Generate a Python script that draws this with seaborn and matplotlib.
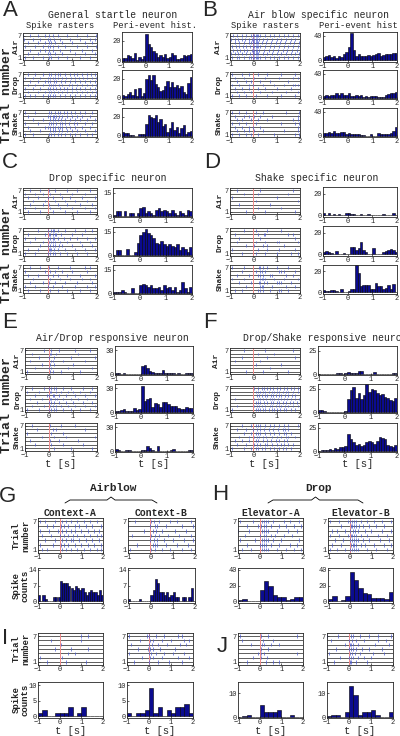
import numpy as np
import pandas as pd
import seaborn as sns
import matplotlib.pyplot as plt
from matplotlib.lines import Line2D

# spike rasters: one string per trial (trial 1 first), spike times in tenths of a second
A_air = ["-9 -6 -2 0.5 1.5 4 8 13 17", "-8 -4 0 1 3 6 11 15 19", "-10 -7 -3 -1 0.5 2 5 9 14 18",
         "-9 -5 -2 0 1 2 4 7 12 16 19.5", "-8 -4 -1 0.5 1.5 3 6 10 15 18",
         "-9.5 -6 -3 0 1 2.5 5 9 13 17 19", "-10 -7 -4 -1 0.5 2 4 8 12 16 19.5"]
A_drop = ["-9 -7 -5 -2 0 1 2 3 5 7 9 11 13 15 17 19", "-10 -8 -4 -1 0.5 1.5 2.5 4 6 8 10 12 14 16 18 19.5",
          "-9 -6 -3 0 1 2 3.5 5 6.5 8 10 11.5 13 15 17 19", "-8 -5 -2 0.5 1.5 2 3 4.5 6 8.5 10 12 14 16 18 19.5",
          "-10 -7 -4 -1 0 1 2.5 3.5 5.5 7 9 11 13 15 17 19", "-9 -6 -3 0 1 2 3 4 6 7.5 9.5 11 12.5 14.5 16 18 19.5",
          "-8 -5 -2 0.5 1.5 3 4 5 7 9 10.5 12 14 16 17.5 19"]
A_shake = ["-9 -6 0.5 1.5 2.5 4 5.5 7 9 11 13 16 18", "-10 -7 -3 1 2 3 4.5 6 8 10 12 15 19",
           "-8 -1 0 1 2 3 4 5 6 7.5 9 11 14 17", "-9 -4 0.5 1.5 2 3.5 5 6 7 8.5 10.5 12 15 18",
           "-10 -6 -2 1 2 3 4 5.5 7 9 11 13 16 19", "-8 0 1 2 2.5 3.5 4.5 6 8 10 12 14 17",
           "-9 -5 0.5 1.5 3 4 5 6.5 8 9.5 11 13 15 18"]
B_air = ["-10 -9 -7 -6 -4 -2 -1 0 0.5 1 1.5 2 3 5 7 9 11 13 15 17 19",
         "-9.5 -8 -6.5 -5 -3 -1.5 0 0.5 1 1.5 2 4 6 8 10 12 14 16 18 19.5",
         "-10 -8.5 -7 -5.5 -4 -2.5 -0.5 0 0.5 1 1.5 2.5 4.5 6.5 8.5 10.5 12.5 14.5 16.5 18.5",
         "-9 -7.5 -6 -4.5 -3 -1.5 0 0.5 1 1.5 2 3 5 7 9 11 13 15 17 19",
         "-10 -8 -6 -4 -2 -1 0 0.5 1 1.5 2 3.5 5.5 7.5 9.5 11.5 13.5 15.5 17.5 19.5",
         "-9.5 -8 -6.5 -5 -3.5 -2 -0.5 0 0.5 1 1.5 2.5 4 6 8 10 12 14 16 18",
         "-10 -8.5 -7 -5 -3 -1 0 0.5 1 1.5 2 3 5 7 9 11 13 15 17 19"]
B_drop = ["-9 -6 -3 1 6 12 18", "-10 -7 -4 -1 3 8 14 19", "-8 -5 -2 2 5 10 16", "-9 -6 -2 0 4 9 13 17 18 19",
          "-10 -7 -3 -1 3 7 15", "-8 -4 0.5 5 11 17 19", "-9 -5 -2 2 6 12 18"]
B_shake = ["-9 -6 -3 -1 2 9 18 19.5", "-10 -7 -4 -2 0.5 4 13 19", "-8 -5 -2 0 3 19", "-9 -6 -3 1 12 18 19.5",
           "-10 -7 -5 -1 2 6 17 19", "-8 -4 -2 0.5 3 8 19", "-9 -6 -3 1 4 14 19.5"]
C_air = ["-8 -3 2 7 12 17", "-9 -5 1 5 10 15 19", "-7 -2 0.5 4 8 13 18", "-10 -6 -1 3 7 11 16",
         "-8 -4 0 2 6 9 14 19", "-9 -5 -2 1 5 10 15", "-7 -3 0.5 3 8 12 17"]
C_drop = ["-9 -5 0 1 2 3 5 8 12 16", "-8 -4 0.5 1 1.5 2.5 4 7 11 15 19", "-10 -3 0 1 2 3 4.5 6 10 14 18",
          "-7 -2 0.5 1.5 2 3 5 8 13 17", "-9 -5 0 1 2 2.5 4 6.5 9 12 16 19", "-8 -1 0.5 1 2 3 3.5 5.5 10 14",
          "-10 -4 0 1.5 2 2.5 4 7 11 15 18"]
C_shake = ["-8 -3 1 4 8 13 17", "-9 -5 0 2 6 11 16 19", "-7 -2 0.5 3 7 12 18", "-10 -6 1 5 9 14 17",
           "-8 -4 0 2 4 8 13 19", "-9 -1 1 3 6 10 16", "-7 -3 0.5 4 9 15 17"]
D_air = ["-3 5 18", "2 12", "-6 7", "1 19", "-9 10", "-4 2 15", "-7 3 17"]
D_drop = ["-5 1 5 10 16 19", "-9 2 6 11 18", "-3 0.5 4 6 13", "-7 1 5 10 11 19", "-6 3 18",
          "-8 2 4.5 5 15 17", "-4 1 6 12"]
D_shake = ["-8 -5 2 3 4 7 11 12 15", "-10 -3 3 3.5 4 8 14 18", "-6 -1 2.5 3 4.5 6 10 11 12 16",
           "-9 -4 3 3.5 4 5 9 13 19", "-7 -2 2 3 4 7 8 14 17", "-5 1 3 3.5 5 11 12 13 18",
           "-9 -4 2.5 3 4 6 10 15"]
E_air = ["-9 0.5 1.5 5 13", "-6 0 1 8 18", "-3 0.5 2 10", "-8 1 1.5 6 15", "-4 0 2 9 19",
         "-7 0.5 1 3 12", "-10 -2 1 4 11 17"]
E_drop = ["-9 -4 0 1 2 3 6 9 13 17", "-7 -2 0.5 1.5 3 5 8 11 15 19", "-10 -5 0 1 2 4 7 10 14 18",
          "-8 -3 0.5 1 2.5 3.5 6 9 12 16", "-6 -1 0 1.5 2 4 7 11 15 19", "-9 -4 0.5 1 3 5 8 10 13 17",
          "-7 -2 0 1 2 3 6 9 14 18"]
E_shake = ["-10 2 9 18", "-6 1 6 14", "-8 0.5 4 12", "-3 2 7 19", "-9 1 6", "-5 1.5 3 15", "-7 0.5 5 11"]
F_air = ["-3 4 15", "7", "1 12", "-8 3", "-5 6 18", "2 9", "-4 5 17"]
F_drop = ["-9 1 2 3 4 5 6.5 8 9 10 11.5 13 14 16 18", "-7 0.5 1.5 2.5 3.5 5 7 8 9.5 11 12 13.5 15 17 19",
          "1 2 3 4.5 6 7.5 8.5 10 11 12.5 14 15.5 17 18.5", "-8 0.5 2 3 4 5.5 7 8 9 10.5 12 13 14.5 16 18 19.5",
          "1.5 2.5 3.5 5 6 7.5 8.5 9.5 11 12 13.5 15 16.5 18", "-10 1 2 3 4 5 6.5 8 9 10 11 12.5 14 15 17 19",
          "0.5 2 3.5 4.5 6 7 8.5 10 11.5 13 14.5 16 17.5 19"]
F_shake = ["-9 -4 -1 1 2 3.5 5 7 9 11 12.5 14 16", "-7 -3 0.5 1.5 3 5 6 8 10 12 13 15 17",
           "-8 -5 -2 1 2 4 6 7.5 9.5 11 13 14.5", "-6 -2 0.5 1.5 2.5 4 5.5 8 10 12 14 15 18",
           "-10 -4 -1 1 2 3 5 7 9 11 13 14 16", "-7 -3 0 1.5 3 4.5 6.5 8.5 10.5 12.5 13.5 15",
           "-5 -1 1 2 3 5 7 9 11 13 15 19"]
G_A = ["-8 -6 1 3 5 8 11 14 17 19", "-9 -3 0.5 2 4 7 10 13 16 19", "-10 -7 -2 1 3 5 6 9 12 15 18",
       "-8 -4 0 2 4 6 8 11 14 17 19", "-9 -5 -1 1 3 5 7 10 13 16 18", "-10 -6 -3 0.5 2 4 7 9 12 15 19",
       "-9 -7 -2 1 3 5 8 11 14 17"]
G_B = ["-9 0.5 2 5 9 14 18", "-6 1 2 3 7 12 17", "0 1.5 3 6 10 15 19", "-8 0.5 2 4 8 13 18",
       "-3 1 2.5 5 11 16", "-10 0 2 3 7 14 19", "-7 0.5 1.5 4 9 12 18"]
H_A = ["-8 -4 1 2 3 4 8 12 16 19", "-6 0 1 2 3 5 9 14 17", "-9 -2 1 2 3 4 6 10 18", "-7 0 2 3 5 7 11 15",
       "-10 -5 1 2 3 4 8 13 17", "-6 -1 0.5 2 3 5 9 12 16 19", "-9 -3 1 2 3 4 6 11 14 18"]
H_B = ["-9 -6 -2 0 1 2 3 4 8 12 17", "-8 -4 0.5 1.5 2 3 5 7 11 16 19", "-7 -3 0 1 2 3 4 6 9 14 18",
       "-9 -5 -1 0.5 1 2 3 5 8 13 17", "-8 -6 -2 0 1.5 2.5 4 7 10 15 19", "-10 -4 0.5 1 2 3 4.5 6 9 12 16",
       "-9 -5 -1 0 1 2 3 5 8 11 15 19"]
I_A = ["-6 3 12", "-9 1", "4 7", "-2 5 13", "0.5", "-4 10", "10 13"]
I_B = ["-7 0 4 9 15", "-3 0.5 2 6 13 18", "-9 0 1 3 7 11 16", "-5 -0.5 0.5 2 5 12",
       "-8 0 1.5 4 8 14 17", "-4 0.5 2 6 10 16 18", "-9 -1 0 3 7 13 15"]
J_A = ["-6 3 6 9", "-3 0.5 3.5", "-1 0.5 2 17", "0.5 4", "-4 1 2 5 9", "-8 1.5 6", "-9 0.5 4 17"]
J_B = ["-7 0.5 1 3 8", "-4 0 1 2 4 7 10", "-9 0.5 1.5 2.5 5 11 16", "-6 0 1 2 3 6 9 15",
       "-2 0.5 1 2 4 12 18", "-8 0 1.5 3 7 13 17", "-10 -5 1 2 5 9 13 19"]

# peri-event histograms, 0.1 s bins from -1 to 2
A_air_h = [3, 3, 6, 5, 3, 8, 1, 4, 2, 5, 27, 17, 14, 10, 8, 4, 6, 4, 7, 3, 4, 8, 6, 2, 2, 3, 6, 5, 6, 7]
A_drop_h = [3, 2, 4, 6, 3, 9, 2, 10, 2, 5, 20, 24, 18, 24, 14, 11, 7, 8, 12, 17, 11, 16, 11, 13, 10, 12, 6, 4, 15, 22]
A_shake_h = [4, 3, 3, 1, 1, 0, 0, 2, 2, 2, 12, 22, 20, 19, 22, 14, 17, 10, 12, 4, 8, 14, 6, 9, 3, 8, 11, 2, 4, 5]
B_air_h = [5, 7, 9, 6, 8, 4, 7, 5, 10, 14, 22, 44, 17, 8, 10, 7, 7, 8, 9, 8, 9, 10, 12, 8, 9, 10, 11, 10, 12, 12]
B_drop_h = [3, 4, 3, 4, 5, 7, 5, 7, 4, 5, 7, 3, 3, 4, 2, 4, 1, 3, 1, 3, 2, 3, 1, 1, 1, 4, 6, 7, 8, 9]
B_shake_h = [4, 5, 6, 5, 7, 4, 5, 6, 6, 3, 5, 3, 3, 2, 2, 1, 1, 0, 0, 3, 0, 0, 4, 2, 2, 3, 3, 5, 8, 14]
C_air_h = [1, 3, 3, 0, 3, 0, 2, 2, 0, 2, 5, 6, 2, 3, 2, 1, 4, 5, 3, 4, 3, 2, 4, 2, 1, 3, 2, 1, 4, 3]
C_drop_h = [0, 3, 3, 0, 0, 4, 0, 0, 2, 8, 13, 15, 17, 14, 13, 11, 8, 7, 9, 7, 6, 7, 6, 5, 7, 3, 5, 4, 2, 5]
C_shake_h = [1, 1, 1, 2, 1, 0, 0, 3, 0, 0, 5, 6, 5, 4, 5, 3, 3, 4, 2, 5, 3, 4, 2, 4, 1, 2, 7, 3, 1, 4]
D_air_h = [2, 0, 2, 0, 1, 0, 1, 0, 0, 2, 2, 1, 1, 0, 0, 1, 0, 0, 1, 0, 0, 0, 0, 0, 1, 0, 0, 0, 2, 0]
D_drop_h = [2, 3, 2, 1, 0, 3, 0, 0, 1, 0, 0, 7, 7, 4, 6, 11, 4, 2, 0, 0, 6, 0, 0, 0, 2, 3, 4, 5, 4, 2]
D_shake_h = [2, 1, 1, 2, 2, 1, 0, 3, 0, 0, 1, 3, 3, 26, 18, 6, 7, 7, 7, 3, 3, 9, 6, 6, 3, 4, 7, 3, 8, 0]
E_air_h = [1, 1, 0, 1, 0, 0, 0, 0, 0, 0, 10, 11, 8, 4, 3, 2, 1, 2, 5, 1, 1, 1, 1, 0, 1, 0, 0, 1, 1, 1]
E_drop_h = [1, 2, 3, 4, 2, 2, 1, 5, 3, 4, 32, 14, 16, 18, 7, 12, 10, 6, 13, 13, 10, 8, 8, 8, 5, 4, 4, 6, 5, 5]
E_shake_h = [3, 1, 0, 0, 1, 1, 0, 0, 0, 0, 2, 2, 6, 4, 2, 0, 6, 0, 0, 0, 0, 2, 3, 0, 0, 0, 0, 0, 1, 1]
F_air_h = [0, 0, 0, 0, 0, 0, 0, 1, 1, 0, 1, 2, 1, 1, 1, 3, 3, 0, 0, 0, 0, 2, 0, 0, 0, 0, 0, 0, 1, 1]
F_drop_h = [2, 2, 1, 0, 0, 0, 0, 0, 0, 0, 1, 14, 24, 27, 15, 20, 14, 18, 30, 21, 25, 24, 20, 18, 19, 16, 15, 13, 12, 15]
F_shake_h = [0, 1, 1, 1, 2, 1, 3, 2, 4, 4, 5, 18, 13, 10, 7, 8, 5, 6, 10, 11, 10, 8, 11, 15, 14, 13, 7, 5, 4, 7]
G_A_h = [3, 0, 3, 1, 0, 0, 0, 2, 2, 2, 9, 8, 8, 8, 7, 6, 5, 7, 6, 5, 6, 4, 3, 4, 5, 4, 4, 3, 5, 3]
G_B_h = [1, 0, 0, 0, 0, 1, 0, 0, 0, 0, 3, 5, 10, 8, 4, 4, 3, 4, 2, 3, 4, 2, 2, 0, 2, 2, 0, 2, 6, 0]
# 0.2 s bins
H_A_h = [2, 3, 0, 0, 0, 14, 26, 19, 8, 5, 6, 2, 3, 6, 5]
H_B_h = [3, 7, 1, 2, 7, 37, 27, 17, 11, 9, 4, 4, 4, 3, 12]
I_A_h = [1, 2, 0, 0, 1, 1, 1, 3, 0, 1, 3, 0, 0, 0, 0]
I_B_h = [1, 0, 1, 1, 2, 9, 1, 3, 0, 2, 1, 3, 3, 4, 1]
J_A_h = [0, 0.5, 1, 0, 0, 5, 2, 2, 2, 3, 0, 0, 1, 0, 0]
J_B_h = [0.5, 1, 1, 0, 2, 13, 9, 1, 2, 2, 3, 1, 0, 0, 2]

W, H = 400, 736
NAVY = "#0b0b8f"
SPIKE = "#4a5ad0"
MONO = ["Liberation Mono", "DejaVu Sans Mono"]

sns.set_style("ticks")
plt.rcParams["font.family"] = MONO
plt.rcParams["axes.linewidth"] = 0.6

fig = plt.figure(figsize=(4, 7.36), dpi=100)


def add_ax(x0, y0, x1, y1):
    return fig.add_axes([x0 / W, 1 - y1 / H, (x1 - x0) / W, (y1 - y0) / H])


def text(x, y, s, **kw):
    fig.text(x / W, 1 - y / H, s, ha="center", va="center", **kw)


def style(ax):
    ax.set_xlim(-1, 2)
    ax.set_xticks([-1, 0, 1, 2])
    ax.tick_params(labelsize=5, length=1.5, width=0.5, pad=0.8, direction="in")
    ax.set_xlabel("")
    ax.set_ylabel("")
    for sp in ax.spines.values():
        sp.set_visible(True)
        sp.set_linewidth(0.6)


def raster(ax, trials, red=True):
    spikes = [np.array(t.split(), float) / 10 for t in trials]
    rows = np.arange(1, 8)
    ax.hlines(rows, -1, 2, color="#333333", lw=0.55)
    if red:
        ax.axvline(0, color="#f08a8a", lw=0.7)
    ax.eventplot(spikes, lineoffsets=rows, linelengths=0.75, colors=SPIKE, linewidths=0.5)
    style(ax)
    ax.set_ylim(0.3, 7.7)
    ax.set_yticks([1, 7])


def hist(ax, counts, yticks, ylim):
    nbin = len(counts)
    width = 3 / nbin
    df = pd.DataFrame({"t": -1 + width * (np.arange(nbin) + 0.5), "n": np.asarray(counts, float)})
    sns.histplot(data=df, x="t", weights="n", binwidth=width, binrange=(-1, 2), ax=ax, color=NAVY,
                 edgecolor="black", linewidth=0.4, alpha=1)
    style(ax)
    ax.set_ylim(*ylim)
    ax.set_yticks(yticks)


neurons = [
    dict(letter="A", lx=10, ly=11, title="General startle neuron", tx=113, rx=(23, 97), hx=(122, 192),
         rr=[(33, 60), (72, 98), (110, 137)], hr=[(32, 62), (70, 99), (108, 137)], labx=16,
         rast=[A_air, A_drop, A_shake], hist=[A_air_h, A_drop_h, A_shake_h], top=20, ylim=(-1.5, 29),
         red=False, subs=("Spike rasters", "Peri-event hist."), trial=(7, 95)),
    dict(letter="B", lx=210, ly=11, title="Air blow specific neuron", tx=318, rx=(230, 300), hx=(323, 397),
         rr=[(33, 60), (72, 98), (110, 137)], hr=[(32, 62), (70, 99), (108, 137)], labx=219,
         rast=[B_air, B_drop, B_shake], hist=[B_air_h, B_drop_h, B_shake_h], top=40, ylim=(-2.5, 46),
         red=True, subs=("Spike rasters", "Peri-event hist"), trial=None),
    dict(letter="C", lx=10, ly=163, title="Drop specific neuron", tx=108, rx=(23, 97), hx=(113, 192),
         rr=[(188, 214), (228, 256), (265, 293)], hr=[(188, 217), (227, 256), (265, 294)], labx=16,
         rast=[C_air, C_drop, C_shake], hist=[C_air_h, C_drop_h, C_shake_h], top=15, ylim=(-0.6, 18),
         red=True, subs=None, trial=(7, 255)),
    dict(letter="D", lx=212, ly=163, title="Shake specific neuron", tx=317, rx=(230, 300), hx=(323, 397),
         rr=[(188, 214), (228, 256), (265, 293)], hr=[(187, 217), (226, 256), (265, 294)], labx=220,
         rast=[D_air, D_drop, D_shake], hist=[D_air_h, D_drop_h, D_shake_h], top=20, ylim=(-1.5, 26),
         red=True, subs=None, trial=None),
    dict(letter="E", lx=10, ly=323, title="Air/Drop responsive neuron", tx=112, rx=(25, 97), hx=(115, 193),
         rr=[(348, 374), (386, 412), (423, 451)], hr=[(346, 375), (384, 413), (423, 452)], labx=17.5,
         rast=[E_air, E_drop, E_shake], hist=[E_air_h, E_drop_h, E_shake_h], top=30, ylim=(-1, 35),
         red=True, subs=None, trial=(7, 405)),
    dict(letter="F", lx=210, ly=323, title="Drop/Shake responsive neuron", tx=325, rx=(230, 300), hx=(318, 397),
         rr=[(348, 374), (386, 412), (423, 451)], hr=[(346, 375), (384, 413), (423, 452)], labx=217,
         rast=[F_air, F_drop, F_shake], hist=[F_air_h, F_drop_h, F_shake_h], top=25, ylim=(-1, 30),
         red=True, subs=None, trial=None),
]

stimuli = ["Air", "Drop", "Shake"]
letter_kw = dict(fontsize=16, family=["Liberation Sans", "DejaVu Sans"])

for n in neurons:
    text(n["lx"], n["ly"], n["letter"], **letter_kw)
    text(n["tx"], n["ly"] + 4 if n["letter"] in "AB" else n["ly"] + 15, n["title"], fontsize=7)
    if n["subs"]:
        text((n["rx"][0] + n["rx"][1]) / 2, 26, n["subs"][0], fontsize=6.3)
        text((n["hx"][0] + n["hx"][1]) / 2 - 2, 26, n["subs"][1], fontsize=6.3)
    if n["trial"]:
        text(n["trial"][0], n["trial"][1], "Trial number", fontsize=9.5, fontweight="bold", rotation=90)
    for i in range(3):
        ax = add_ax(n["rx"][0], n["rr"][i][0], n["rx"][1], n["rr"][i][1])
        raster(ax, n["rast"][i], red=n["red"])
        text(n["labx"], (n["rr"][i][0] + n["rr"][i][1]) / 2, stimuli[i], fontsize=5.8,
             fontweight="bold", rotation=90)
        ax = add_ax(n["hx"][0], n["hr"][i][0], n["hx"][1], n["hr"][i][1])
        hist(ax, n["hist"][i], [0, n["top"]], n["ylim"])
    if n["letter"] in "EF":
        text((n["rx"][0] + n["rx"][1]) / 2, 464, "t [s]", fontsize=7.5)
        text((n["hx"][0] + n["hx"][1]) / 2, 464, "t [s]", fontsize=7.5)

# context panels G-J
contexts = [
    dict(letter="G", lx=8, ly=497, top="Airblow", topx=113, brace=(65, 157), cols=[(38, 103), (128, 195)],
         names=["Context-A", "Context-B"], rr=(518, 553), hr=(568, 603), rast=[G_A, G_B],
         hist=[G_A_h, G_B_h], yt=[0, 7, 14], ylim=(-0.7, 14.7), ylab=True),
    dict(letter="H", lx=220, ly=494, top="Drop", topx=318, brace=(268, 363), cols=[(238, 303), (328, 393)],
         names=["Elevator-A", "Elevator-B"], rr=(518, 553), hr=(568, 603), rast=[H_A, H_B],
         hist=[H_A_h, H_B_h], yt=[0, 20, 40], ylim=(-2, 42), ylab=False),
    dict(letter="I", lx=5, ly=638, top=None, cols=[(38, 103), (127, 193)], rr=(633, 665), hr=(682, 718),
         rast=[I_A, I_B], hist=[I_A_h, I_B_h], yt=[0, 5, 10], ylim=(-0.6, 11), ylab=True),
    dict(letter="J", lx=222, ly=647, top=None, cols=[(238, 303), (327, 393)], rr=(633, 665), hr=(682, 718),
         rast=[J_A, J_B], hist=[J_A_h, J_B_h], yt=[0, 10], ylim=(-0.4, 14.6), ylab=False),
]

for c in contexts:
    text(c["lx"], c["ly"], c["letter"], **letter_kw)
    if c["top"]:
        text(c["topx"], 488, c["top"], fontsize=8, fontweight="bold")
        b0, b1 = c["brace"]
        m = (b0 + b1) / 2
        bx = np.array([b0, b0 + 5, m - 4, m, m + 4, b1 - 5, b1]) / W
        by = 1 - np.array([503, 500, 500, 497, 500, 500, 503]) / H
        fig.add_artist(Line2D(bx, by, color="black", lw=0.6))
    for j in range(2):
        x0, x1 = c["cols"][j]
        if c["top"]:
            text((x0 + x1) / 2, 513, c["names"][j], fontsize=7, fontweight="bold")
        ax = add_ax(x0, c["rr"][0], x1, c["rr"][1])
        raster(ax, c["rast"][j])
        ax = add_ax(x0, c["hr"][0], x1, c["hr"][1])
        hist(ax, c["hist"][j], c["yt"], c["ylim"])
        if c["letter"] in "IJ":
            text((x0 + x1) / 2, 731, "t [s]", fontsize=7.5)
    if c["ylab"]:
        text(21, (c["rr"][0] + c["rr"][1]) / 2, "Trial\nnumber", fontsize=6.5, fontweight="bold",
             rotation=90, linespacing=1.0)
        text(21, (c["hr"][0] + c["hr"][1]) / 2, "Spike\ncounts", fontsize=6.5, fontweight="bold",
             rotation=90, linespacing=1.0)

fig.savefig("out.png", dpi=100)
